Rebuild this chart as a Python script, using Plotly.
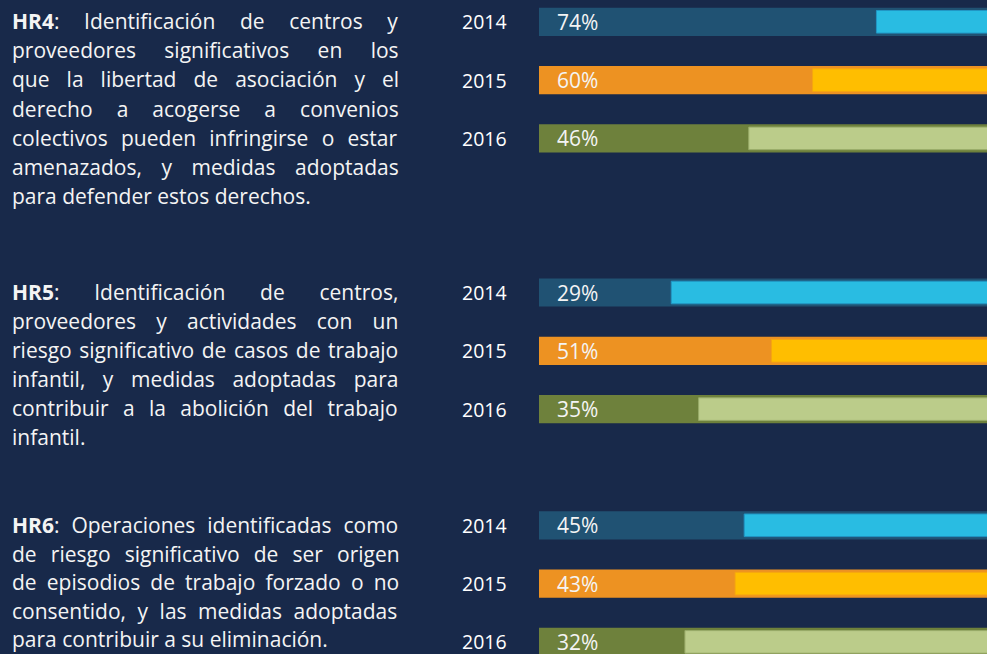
import plotly.graph_objects as go

# ---- data -------------------------------------------------------------
indicators = ["HR4", "HR5", "HR6"]
years = ["2014", "2015", "2016"]
hr4_values = [74, 60, 46]
hr5_values = [29, 51, 35]
hr6_values = [45, 43, 32]

hr4_lines = [
    "<b>HR4</b>: Identificación de centros y",
    "proveedores significativos en los",
    "que la libertad de asociación y el",
    "derecho a acogerse a convenios",
    "colectivos pueden infringirse o estar",
    "amenazados, y medidas adoptadas",
    "para defender estos derechos.",
]
hr5_lines = [
    "<b>HR5</b>: Identificación de centros,",
    "proveedores y actividades con un",
    "riesgo significativo de casos de trabajo",
    "infantil, y medidas adoptadas para",
    "contribuir a la abolición del trabajo",
    "infantil.",
]
hr6_lines = [
    "<b>HR6</b>: Operaciones identificadas como",
    "de riesgo significativo de ser origen",
    "de episodios de trabajo forzado o no",
    "consentido, y las medidas adoptadas",
    "para contribuir a su eliminación.",
]

# extra word spacing (px) per line to justify the paragraphs
hr4_spacing = [19.2, 22.9, 11.6, 18.6, 7.8, 14.1, 0]
hr5_spacing = [29.3, 14.8, 2.1, 12.1, 8.9, 0]
hr6_spacing = [6.5, 8.7, 4.7, 6.1, 0]

# ---- layout constants -------------------------------------------------
W, H = 987, 654
BG = "#18294a"
dark_colors = ["#205273", "#ed9222", "#6e813c"]
light_colors = ["#29bce2", "#ffbe00", "#bbcc8a"]
edge_colors = ["#2196c4", "#f5a511", "#98aa68"]

group_top = [21.8, 292.5, 525.3]   # centre of the first bar of each block
row_step = 58.3
text_top = [21.0, 291.5, 525.0]    # centre of the first text line of each block
line_step = [29.2, 29.0, 28.6]

BAR_X0 = 539.0        # pixel where 0 % sits
PX_PER_PCT = 4.56     # pixels per percentage point
x_range = [-BAR_X0 / PX_PER_PCT, (W - BAR_X0) / PX_PER_PCT]

values = [hr4_values, hr5_values, hr6_values]
texts = [hr4_lines, hr5_lines, hr6_lines]
spacings = [hr4_spacing, hr5_spacing, hr6_spacing]

fig = go.Figure()

ys, vals, dcol, lcol, ecol = [], [], [], [], []
for g, vs in enumerate(values):
    for i, v in enumerate(vs):
        ys.append(group_top[g] + i * row_step)
        vals.append(v)
        dcol.append(dark_colors[i])
        lcol.append(light_colors[i])
        ecol.append(edge_colors[i])

# full-length dark bar
fig.add_trace(go.Bar(
    orientation="h", y=ys, x=[100] * len(ys), base=0, width=28.2,
    marker=dict(color=dcol, line=dict(width=0)), hoverinfo="skip",
))
# lighter remainder beyond the value
fig.add_trace(go.Bar(
    orientation="h", y=ys, x=[100 - v for v in vals], base=vals, width=22.6,
    marker=dict(color=lcol, line=dict(width=1, color=ecol)), hoverinfo="skip",
))

annotations = []
for g, vs in enumerate(values):
    for i, v in enumerate(vs):
        y = group_top[g] + i * row_step
        annotations.append(dict(
            x=-6.5, y=y, xref="x", yref="y", text=years[i], showarrow=False,
            xanchor="right", yanchor="middle",
            font=dict(family="Open Sans", size=19.5, color="#ffffff"),
        ))
        annotations.append(dict(
            x=3.6, y=y, xref="x", yref="y", text=f"{v}%", showarrow=False,
            xanchor="left", yanchor="middle",
            font=dict(family="Open Sans", size=21, color="#f4f4f4"),
        ))

for g, lines in enumerate(texts):
    for k, line in enumerate(lines):
        sp = spacings[g][k]
        txt = f'<span style="word-spacing:{sp}px">{line}</span>' if sp else line
        annotations.append(dict(
            x=10 / W, y=text_top[g] + k * line_step[g], xref="paper", yref="y",
            text=txt, showarrow=False, xanchor="left", yanchor="middle",
            align="left",
            font=dict(family="Open Sans", size=21, color="#f4f4f4"),
        ))

fig.update_layout(
    width=W, height=H, margin=dict(l=0, r=0, t=0, b=0),
    paper_bgcolor=BG, plot_bgcolor=BG, showlegend=False, barmode="overlay",
    xaxis=dict(range=x_range, visible=False, fixedrange=True),
    yaxis=dict(range=[H, 0], visible=False, fixedrange=True),
    annotations=annotations,
)

fig.write_html("out.html")
